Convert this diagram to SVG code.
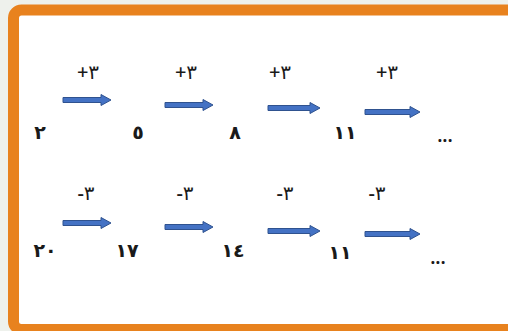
<svg xmlns="http://www.w3.org/2000/svg" width="508" height="331" viewBox="0 0 508 331">
<style>
.t{font-family:"Noto Sans","DejaVu Sans",sans-serif;font-size:19px;fill:#1a1a1a;text-anchor:middle;font-weight:600}
.op{font-family:"Noto Sans","DejaVu Sans",sans-serif;font-size:20px;fill:#1a1a1a;text-anchor:middle;font-weight:500}
.a{fill:#4472C4;stroke:#2F528F;stroke-width:1}
</style>
<rect width="508" height="331" fill="#eef1ec"/>
<rect x="13.5" y="10" width="520" height="319.5" rx="8" fill="#ffffff" stroke="#E8821E" stroke-width="11"/>
<g id="connectors">
<path class="a" d="M63,97.5 H101 V94.5 L111,100 L101,105.5 V102.5 H63 Z"/>
<path class="a" d="M165,102.5 H203 V99.5 L213,105 L203,110.5 V107.5 H165 Z"/>
<path class="a" d="M268,105.5 H310 V102.5 L320,108 L310,113.5 V110.5 H268 Z"/>
<path class="a" d="M365,109.5 H410 V106.5 L420,112 L410,117.5 V114.5 H365 Z"/>
<path class="a" d="M63,220.5 H101 V217.5 L111,223 L101,228.5 V225.5 H63 Z"/>
<path class="a" d="M165,224.5 H203 V221.5 L213,227 L203,232.5 V229.5 H165 Z"/>
<path class="a" d="M268,228.5 H310 V225.5 L320,231 L310,236.5 V233.5 H268 Z"/>
<path class="a" d="M365,231.5 H410 V228.5 L420,234 L410,239.5 V236.5 H365 Z"/>
</g>
<g id="op1"><text class="op" x="88" y="79">+٣</text></g>
<g id="op2"><text class="op" x="186" y="79">+٣</text></g>
<g id="op3"><text class="op" x="280" y="79">+٣</text></g>
<g id="op4"><text class="op" x="387" y="79">+٣</text></g>
<g id="n1"><text class="t" x="40" y="139">٢</text></g>
<g id="n2"><text class="t" x="138" y="139">٥</text></g>
<g id="n3"><text class="t" x="235" y="139">٨</text></g>
<g id="n4"><text class="t" x="345" y="139">١١</text></g>
<g id="n5"><text class="t" x="445" y="142">...</text></g>
<g id="op5"><text class="op" x="86" y="200">-٣</text></g>
<g id="op6"><text class="op" x="185" y="200">-٣</text></g>
<g id="op7"><text class="op" x="285" y="200">-٣</text></g>
<g id="op8"><text class="op" x="377" y="200">-٣</text></g>
<g id="m1"><text class="t" x="45" y="257">٢٠</text></g>
<g id="m2"><text class="t" x="127" y="257">١٧</text></g>
<g id="m3"><text class="t" x="233" y="257">١٤</text></g>
<g id="m4"><text class="t" x="340" y="259">١١</text></g>
<g id="m5"><text class="t" x="438" y="264">...</text></g>
</svg>
